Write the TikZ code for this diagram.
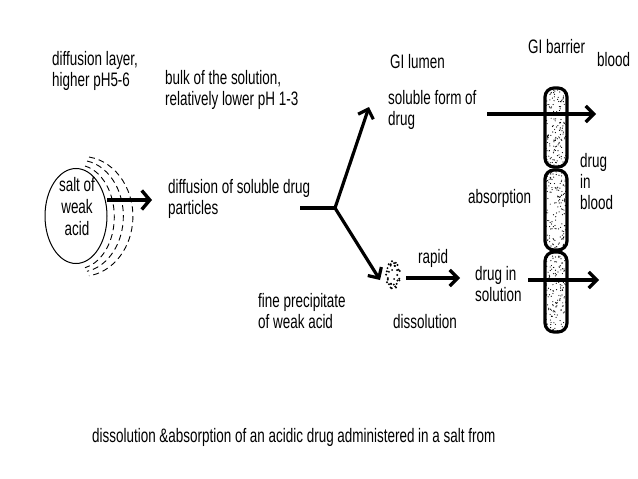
\documentclass[tikz,border=0pt]{standalone}
\usepackage{fontspec}
\setmainfont{Liberation Sans}[FakeStretch=0.69]
\usetikzlibrary{arrows.meta,shapes.geometric}
\begin{document}
\begin{tikzpicture}[x=1pt,y=-1pt,
  lbl/.style={anchor=west,inner sep=0pt,font=\fontsize{19.5}{21}\selectfont,align=left},
  clbl/.style={inner sep=0pt,font=\fontsize{19.5}{22}\selectfont,align=center},
  bigarrow/.style={line width=3.6pt,-{Straight Barb[length=8pt,width=19pt,line width=3.4pt]}},
  medarrow/.style={line width=3.2pt,-{Straight Barb[length=8pt,width=16pt,line width=3.2pt]}},
  capsule/.style={line width=3.2pt,rounded corners=9pt},
  arcline/.style={line width=0.9pt,dash pattern=on 6pt off 4pt}]
\useasboundingbox (0,0) rectangle (638,479);
% top labels
\node[lbl] (dl) at (52,71) {diffusion layer,\\higher pH5-6};
\node[lbl] (bk) at (165,90) {bulk of the solution,\\relatively lower pH 1-3};
\node[lbl] (gl) at (390,62) {GI lumen};
\node[lbl] (gb) at (528,47) {GI barrier};
\node[lbl] (bl) at (597,60) {blood};
% salt particle
\node[draw,ellipse,minimum width=62pt,minimum height=95pt,inner sep=0pt,line width=1pt] (salt) at (76,216) {};
\node[clbl] (saltt) at (77,207) {salt of\\weak\\acid};
\draw[arcline] (85.0,166) arc[start angle=-78,end angle=78,x radius=37,y radius=52];
\draw[arcline] (87.0,161) arc[start angle=-80,end angle=80,x radius=44,y radius=56];
\draw[arcline] (89.0,157) arc[start angle=-82,end angle=82,x radius=51,y radius=60];
\coordinate (a1s) at (107,200);
\coordinate (a1e) at (152,200);
\draw[bigarrow] (a1s) -- (a1e);
\node[lbl] (diff) at (168,199) {diffusion of soluble drug\\particles};
% branch
\coordinate (bs) at (300,208);
\coordinate (bj) at (335,208);
\coordinate (bu) at (369,107);
\coordinate (bd) at (380,280);
\draw[line width=3.4pt] (bs) -- (bj);
\draw[medarrow] (bj) -- (bu);
\draw[medarrow] (bj) -- (bd);
\node[lbl] (sol) at (388,110) {soluble form of\\drug};
\node[lbl] (fp) at (258,311) {fine precipitate\\of weak acid};
% precipitate dots (oval ring)
\foreach \k in {0,...,29}{
  \pgfmathsetmacro{\ang}{\k*12+5*sin(\k*97)}
  \pgfmathsetmacro{\rr}{0.62+0.38*abs(sin(\k*53))}
  \fill ({393+7*\rr*cos(\ang)},{275+14*\rr*sin(\ang)}) circle (1.1);
}
\foreach \px/\py in {392/270,394/279,391/284,395/266}{
  \fill (\px,\py) circle (1.0);
}
\coordinate (rs) at (406,278);
\coordinate (re) at (460,278);
\draw[medarrow] (rs) -- (re);
\node[lbl] (rap) at (418,258) {rapid};
\node[lbl] (dis) at (393,322) {dissolution};
\node[lbl] (dis2) at (475,284) {drug in\\solution};
\node[lbl] (abs) at (468,198) {absorption};
\node[lbl] (dib) at (580,182) {drug\\in\\blood};
% barrier capsules
\pgfmathsetseed{5}
\foreach \yt/\yb [count=\c] in {88/167,170/250,252/332}{
  \begin{scope}
    \clip[rounded corners=9pt] (545,\yt) rectangle (567,\yb);
    \foreach \k in {1,...,150}{
      \fill ({546+20*rnd},{\yt+1+(\yb-\yt-2)*rnd}) circle (0.6);
    }
  \end{scope}
  \draw[capsule] (545,\yt) rectangle (567,\yb);
}
\coordinate (ts) at (487,114);
\coordinate (te) at (596,114);
\draw[medarrow] (ts) -- (te);
\coordinate (us) at (528,280);
\coordinate (ue) at (599,280);
\draw[medarrow] (us) -- (ue);
% caption
\node[lbl] (cap) at (92,437) {dissolution \&absorption of an acidic drug administered in a salt from};
\end{tikzpicture}
\end{document}
